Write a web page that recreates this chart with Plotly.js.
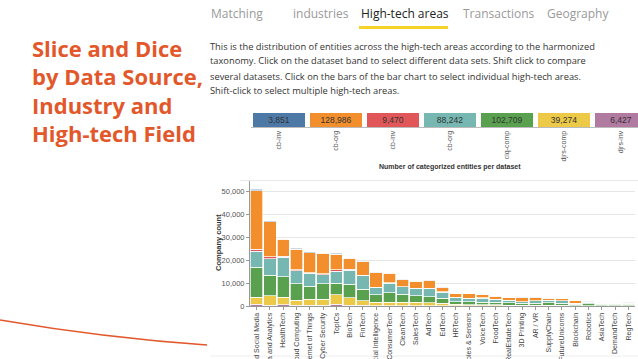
<!DOCTYPE html>
<html>
<head>
<meta charset="utf-8">
<script src="https://cdn.plot.ly/plotly-3.0.1.min.js"></script>
<style>html,body{margin:0;padding:0;background:#fff;}#chart{width:638px;height:359px;}</style>
</head>
<body>
<div id="chart"></div>
<script>
// ---------- DATA ----------
const categories = ["Marketing and Social Media","Data and Analytics","HealthTech","Cloud Computing","Internet of Things","Cyber Security","TopICs","BioTech","FinTech","Artificial Intelligence","ConsumerTech","CleanTech","SalesTech","AdTech","EdTech","HRTech","Wearables & Sensors","VoiceTech","FoodTech","RealEstateTech","3D Printing","AR / VR","SupplyChain","FutureUnicorns","Blockchain","Robotics","AsiaTech","DemandTech","RegTech"];

const datasetNames = ["cb-inv","cb-org","cb-inv","cb-org","ciq-comp","djrs-comp","djrs-inv"];
const datasetCounts = [3851,128986,9470,88242,102709,39274,6427];

// company counts per high-tech area, one array per dataset
const cbInv1   = [700,400,300,300,300,300,300,200,200,200,200,200,200,200,200,100,100,100,100,100,100,100,100,100,100,100,100,100,100];
const cbOrg1   = [25500,15300,7300,8900,8700,8900,6800,4800,5900,6400,4100,2900,3000,3400,1700,1500,2000,1600,1300,1300,1800,1400,800,800,900,300,300,400,400];
const cbInv2   = [900,700,500,500,400,400,700,400,300,200,200,200,200,200,200,100,100,100,100,100,100,100,100,100,100,100,100,100,100];
const cbOrg2   = [7000,7200,8400,5800,5500,4000,5200,6200,5800,3200,4200,3200,3200,3400,2700,1800,1300,1700,1200,1000,500,900,1100,1000,400,600,400,300,300];
const ciqComp  = [13000,9000,9000,7000,5700,6600,5100,5800,5100,3100,4100,3400,2800,2600,2100,1200,1300,1200,1200,1000,900,900,1100,900,600,700,600,600,500];
const djrsComp = [3000,4100,3300,2200,2600,2600,4100,3300,2000,1500,1500,1500,1400,1300,1050,600,500,400,400,300,300,300,200,200,150,150,150,150,150];
const djrsInv  = [800,400,500,400,400,400,700,300,300,200,200,200,200,200,150,100,100,100,100,100,100,100,100,100,50,50,50,50,50];

const yTicks = [0,10000,20000,30000,40000,50000];

const tabLabels = ["Matching","industries","High-tech areas","Transactions","Geography"];
const introLines = [
  "This is the distribution of entities across the high-tech areas according to the harmonized",
  "taxonomy. Click on the dataset band to select different data sets. Shift click to compare",
  "several datasets. Click on the bars of the bar chart to select individual high-tech areas.",
  "Shift-click to select multiple high-tech areas."
];
const slideTitleLines = ["Slice and Dice","by Data Source,","Industry and","High-tech Field"];

// ---------- STYLE ----------
const W = 638, H = 359;
const px = x => x / W;
const py = y => 1 - y / H;
const colors = ["#4e79a7","#f28e2b","#e15759","#76b7b2","#59a14f","#edc948","#b07aa1"];
const seriesValues = [cbInv1, cbOrg1, cbInv2, cbOrg2, ciqComp, djrsComp, djrsInv];
const chartFont = "Liberation Sans, Arial, sans-serif";
const uiFont = "Open Sans, sans-serif";
const accent = "#e2582b";

const idx = categories.map((_, i) => i);
const traces = [];
// stacked bars: last dataset at the bottom
for (let s = seriesValues.length - 1; s >= 0; s--) {
  traces.push({
    type: "bar", x: idx, y: seriesValues[s], name: datasetNames[s],
    xaxis: "x", yaxis: "y", width: 0.93,
    marker: {color: colors[s], line: {color: "#ffffff", width: 0.7}},
    hoverinfo: "skip"
  });
}
// dataset band
traces.push({
  type: "bar", x: datasetNames.map((_, i) => i), y: datasetCounts.map(() => 1),
  xaxis: "x2", yaxis: "y2", width: 0.912,
  marker: {color: colors, line: {width: 0}},
  text: datasetCounts.map(v => v.toLocaleString("en-US")),
  textposition: "inside", insidetextanchor: "middle",
  textfont: {family: chartFont, size: 8.5, color: "#333"},
  constraintext: "none", cliponaxis: true, hoverinfo: "skip"
});

const annotations = [];
const tabX = [209, 291, 359, 461, 545];
tabLabels.forEach((t, i) => annotations.push({
  xref: "paper", yref: "paper", x: px(tabX[i]), y: py(14), xanchor: "left", yanchor: "middle",
  text: t, showarrow: false,
  font: {family: uiFont, size: 12, color: i === 2 ? "#222" : "#9a9a9a"}
}));
introLines.forEach((t, i) => annotations.push({
  xref: "paper", yref: "paper", x: px(208), y: py(46 + i * 15), xanchor: "left", yanchor: "middle",
  text: t, showarrow: false, font: {family: uiFont, size: 9.3, color: "#333"}
}));
slideTitleLines.forEach((t, i) => annotations.push({
  xref: "paper", yref: "paper", x: px(30), y: py(48 + i * 28.4), xanchor: "left", yanchor: "middle",
  text: t, showarrow: false, font: {family: uiFont, size: 22, color: accent, weight: 700}
}));
annotations.push({
  xref: "paper", yref: "paper", x: px(450), y: py(167), xanchor: "center", yanchor: "middle",
  text: "Number of categorized entities per dataset", showarrow: false,
  font: {family: chartFont, size: 7, color: "#333", weight: 700}
});
annotations.push({
  xref: "paper", yref: "paper", x: px(218), y: py(243), xanchor: "center", yanchor: "middle",
  text: "Company count", textangle: -90, showarrow: false,
  font: {family: chartFont, size: 7.5, color: "#333", weight: 700}
});

const layout = {
  width: W, height: H,
  margin: {l: 0, r: 0, t: 0, b: 0, pad: 0},
  paper_bgcolor: "#ffffff", plot_bgcolor: "#ffffff",
  showlegend: false, barmode: "stack",
  xaxis: {
    domain: [px(250), px(635)], range: [-0.5, categories.length - 0.5],
    tickvals: idx, ticktext: categories, tickangle: -90,
    tickfont: {family: chartFont, size: 7, color: "#444"},
    ticks: "outside", ticklen: 3, tickcolor: "#999",
    showline: true, linecolor: "#999", linewidth: 1,
    showgrid: false, zeroline: false, fixedrange: true, automargin: false
  },
  yaxis: {
    domain: [py(306), py(181)], range: [0, 54500],
    tickvals: yTicks, tickformat: ",d",
    tickfont: {family: chartFont, size: 7.5, color: "#555"},
    ticks: "outside", ticklen: 3, tickcolor: "#999",
    showline: true, linecolor: "#999", linewidth: 1,
    showgrid: true, gridcolor: "#e6e6e6", gridwidth: 1,
    zeroline: false, fixedrange: true, automargin: false
  },
  xaxis2: {
    anchor: "y2", domain: [px(250.5), 1], range: [-0.5, -0.5 + (638 - 250.5) / 57],
    tickvals: datasetNames.map((_, i) => i), ticktext: datasetNames, tickangle: -90,
    tickfont: {family: chartFont, size: 7, color: "#555"},
    ticks: "", showline: true, linecolor: "#bbb", linewidth: 1,
    showgrid: false, zeroline: false, fixedrange: true, automargin: false
  },
  yaxis2: {
    anchor: "x2", domain: [py(127), py(113)], range: [0, 1],
    visible: false, fixedrange: true
  },
  annotations: annotations,
  shapes: [
    {type: "line", xref: "paper", yref: "paper", x0: px(240), x1: 1, y0: py(180.5), y1: py(180.5),
     line: {color: "#e8e8e8", width: 1}, layer: "below"},
    {type: "line", xref: "paper", yref: "paper", x0: px(210), x1: 1, y0: py(356), y1: py(356),
     line: {color: "#eeeeee", width: 1}, layer: "below"},
    {type: "line", xref: "paper", yref: "paper", x0: px(359), x1: px(448), y0: py(27.5), y1: py(27.5),
     line: {color: "#f5d327", width: 3}},
    {type: "path", xref: "paper", yref: "paper",
     path: `M 0 ${py(320)} Q ${px(105)} ${py(338)} ${px(207)} ${py(345)}`,
     line: {color: accent, width: 1.5}}
  ]
};

Plotly.newPlot("chart", traces, layout, {staticPlot: true, displayModeBar: false});
</script>
</body>
</html>
